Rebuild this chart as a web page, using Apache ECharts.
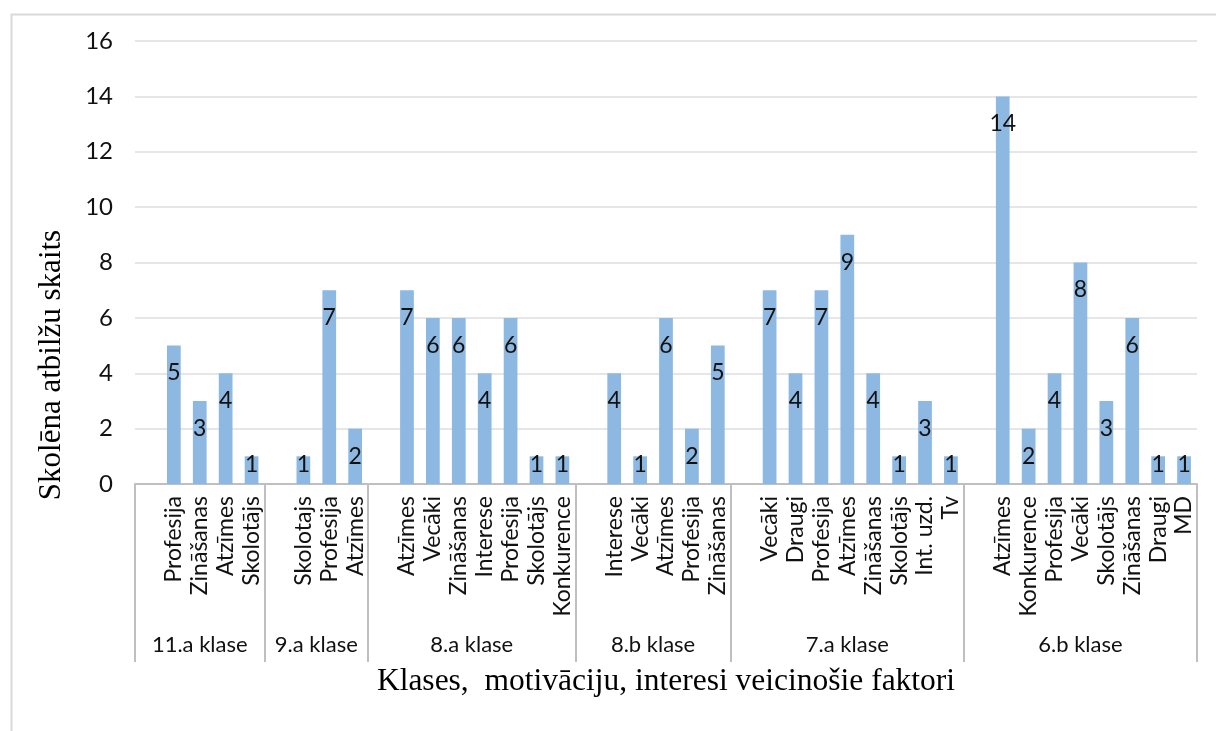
<!DOCTYPE html>
<html>
<head>
<meta charset="utf-8">
<script src="https://cdn.jsdelivr.net/npm/echarts@6/dist/echarts.min.js"></script>
<style>html,body{margin:0;padding:0;background:#fff;}#c{width:1216px;height:731px;}</style>
</head>
<body>
<div id="c"></div>
<script>
const groups = ['11.a klase', '9.a klase', '8.a klase', '8.b klase', '7.a klase', '6.b klase'];
const factors11a = ['Profesija', 'Zināšanas', 'Atzīmes', 'Skolotājs'];
const counts11a = [5, 3, 4, 1];
const factors9a = ['Skolotajs', 'Profesija', 'Atzīmes'];
const counts9a = [1, 7, 2];
const factors8a = ['Atzīmes', 'Vecāki', 'Zināšanas', 'Interese', 'Profesija', 'Skolotājs', 'Konkurence'];
const counts8a = [7, 6, 6, 4, 6, 1, 1];
const factors8b = ['Interese', 'Vecāki', 'Atzīmes', 'Profesija', 'Zināšanas'];
const counts8b = [4, 1, 6, 2, 5];
const factors7a = ['Vecāki', 'Draugi', 'Profesija', 'Atzīmes', 'Zināšanas', 'Skolotājs', 'Int. uzd.', 'Tv'];
const counts7a = [7, 4, 7, 9, 4, 1, 3, 1];
const factors6b = ['Atzīmes', 'Konkurence', 'Profesija', 'Vecāki', 'Skolotājs', 'Zināšanas', 'Draugi', 'MD'];
const counts6b = [14, 2, 4, 8, 3, 6, 1, 1];
const yTicks = [0, 2, 4, 6, 8, 10, 12, 14, 16];

const groupFactors = [factors11a, factors9a, factors8a, factors8b, factors7a, factors6b];
const groupCounts = [counts11a, counts9a, counts8a, counts8b, counts7a, counts6b];

// flatten: each group starts with an empty slot (as in the source sheet)
const catLabels = [], values = [], bounds = [0], centers = [];
let pos = 0;
groups.forEach((g, i) => {
  catLabels.push(''); values.push(null);
  groupFactors[i].forEach((f, j) => { catLabels.push(f); values.push(groupCounts[i][j]); });
  const n = groupFactors[i].length + 1;
  centers.push(pos + n / 2);
  pos += n;
  bounds.push(pos);
});

const SANS = 'Lato, "Open Sans", sans-serif';
const SERIF = '"Liberation Serif", "DejaVu Serif", serif';
const chart = echarts.init(document.getElementById('c'), null, {renderer: 'canvas'});
const GRID_BOTTOM = 247;

chart.setOption({
  animation: false,
  backgroundColor: '#ffffff',
  grid: {left: 135, right: 19, top: 41, bottom: GRID_BOTTOM, containLabel: false},
  graphic: [
    {type: 'rect', left: 9, top: 12, shape: {width: 1300, height: 800}, style: {fill: 'none', stroke: '#d9d9d9', lineWidth: 2}, silent: true, z: -1},
    {type: 'text', x: 52, y: 365, rotation: Math.PI / 2,
      style: {text: 'Skolēna atbilžu skaits', font: '31px ' + SERIF, fill: '#000', align: 'center', verticalAlign: 'middle'}}
  ],
  xAxis: [
    {
      type: 'category',
      data: catLabels,
      boundaryGap: true,
      axisLine: {show: true, lineStyle: {color: '#bfbfbf', width: 2}},
      axisTick: {show: false},
      axisLabel: {interval: 0, rotate: 90, margin: 12, fontFamily: SANS, fontSize: 23, color: '#111'},
      splitLine: {show: false},
      name: 'Klases,  motivāciju, interesi veicinošie faktori',
      nameLocation: 'middle',
      nameGap: 182,
      nameTextStyle: {fontFamily: SERIF, fontSize: 31.5, color: '#000'}
    },
    {
      type: 'value',
      min: 0,
      max: pos,
      position: 'bottom',
      axisLine: {show: false},
      splitLine: {show: false},
      axisTick: {show: true, inside: false, length: 178, customValues: bounds, lineStyle: {color: '#bfbfbf', width: 2}},
      axisLabel: {
        show: true, margin: 150, customValues: centers,
        fontFamily: SANS, fontSize: 22, color: '#111',
        formatter: (v) => { const k = centers.findIndex(c => Math.abs(c - v) < 1e-6); return k >= 0 ? groups[k] : ''; }
      }
    }
  ],
  yAxis: {
    type: 'value',
    min: yTicks[0],
    max: yTicks[yTicks.length - 1],
    interval: yTicks[1] - yTicks[0],
    axisLine: {show: false},
    axisTick: {show: false},
    axisLabel: {margin: 22, fontFamily: SANS, fontSize: 24, color: '#111'},
    splitLine: {lineStyle: {color: '#e6e6e6', width: 2}}
  },
  series: [{
    type: 'bar',
    xAxisIndex: 0,
    yAxisIndex: 0,
    data: values,
    barWidth: '53%',
    itemStyle: {color: '#8cb8e2'},
    label: {
      show: true, position: 'insideTop', distance: 16,
      fontFamily: SANS, fontSize: 23, color: '#111'
    },
    labelLayout: function (p) {
      const r = p.rect, lr = p.labelRect;
      const maxTop = r.y + r.height - lr.height - 8;
      if (lr.y > maxTop) {
        return {x: lr.x, y: maxTop, align: 'left', verticalAlign: 'top'};
      }
      return {};
    }
  }]
});
</script>
</body>
</html>
